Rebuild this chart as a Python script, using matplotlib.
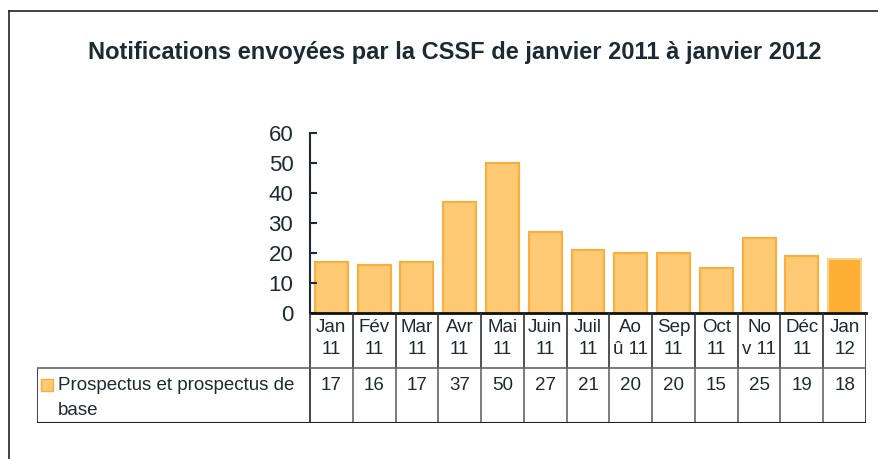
import numpy as np
import matplotlib.pyplot as plt
from matplotlib.lines import Line2D

# donnees
mois = ["Jan\n11", "Fév\n11", "Mar\n11", "Avr\n11", "Mai\n11", "Juin\n11", "Juil\n11",
        "Ao\nû 11", "Sep\n11", "Oct\n11", "No\nv 11", "Déc\n11", "Jan\n12"]
valeurs = [17, 16, 17, 37, 50, 27, 21, 20, 20, 15, 25, 19, 18]
serie = "Prospectus et prospectus de\nbase"
titre = "Notifications envoyées par la CSSF de janvier 2011 à janvier 2012"

plt.rcParams['font.family'] = ['Liberation Sans', 'DejaVu Sans']
texte = '#1c2b33'
fond = '#FDCA73'
bord = '#FBAE3C'
taille = 13.5

W, H = 879, 459
fig = plt.figure(figsize=(W / 100, H / 100), dpi=100)

# axe des barres (pixels: x 310-866, y 133-313)
ax = fig.add_axes([310 / W, (H - 313) / H, 556 / W, 180 / H])
x = np.arange(len(valeurs))
couleurs = [fond] * (len(valeurs) - 1) + ['#FDAE35']
bords = [bord] * (len(valeurs) - 1) + ['#FDD28A']
ax.bar(x, valeurs, width=0.77, color=couleurs, edgecolor=bords, linewidth=1.5)
ax.set_xlim(-0.5, len(valeurs) - 0.5)
ax.set_ylim(0, 60)
ax.set_yticks(range(0, 61, 10))
ax.set_xticks([])
for s in ['top', 'right']:
    ax.spines[s].set_visible(False)
ax.spines['left'].set_color('#1c2b33')
ax.spines['left'].set_linewidth(1.5)
ax.spines['bottom'].set_color('#111111')
ax.spines['bottom'].set_linewidth(2)
ax.tick_params(axis='y', direction='in', length=5, width=1.5, color='#1c2b33',
               labelsize=16, labelcolor=texte, pad=12)

# tableau sous le graphique
col = 556 / len(valeurs)
gauche = -0.5 - 273 / col
tb = fig.add_axes([37 / W, (H - 423) / H, 829 / W, 110 / H])
tb.set_xlim(gauche, len(valeurs) - 0.5)
tb.set_ylim(0, 2)
tb.axis('off')
bornes = np.arange(len(valeurs) + 1) - 0.5
tb.vlines(bornes, 1, 2, color='#333333', lw=1.2)
tb.vlines(bornes[1:-1], 0, 1, color='#666666', lw=1.2)
tb.vlines([gauche, bornes[0], bornes[-1]], 0, 1, color='#222222', lw=1.2)
tb.hlines(1, gauche, bornes[-1], color='#666666', lw=1.2)
tb.hlines(0, gauche, bornes[-1], color='#222222', lw=1.5)
for i, (m, v) in enumerate(zip(mois, valeurs)):
    haut, bas = m.split("\n")
    tb.text(i, 1.745, haut, ha='center', va='center', fontsize=taille, color=texte)
    tb.text(i, 1.33, bas, ha='center', va='center', fontsize=taille, color=texte)
    tb.text(i, 0.69, str(v), ha='center', va='center', fontsize=taille, color=texte)
tb.scatter([gauche + 10 / col], [0.69], marker='s', s=75, color=fond, edgecolor=bord, lw=1)
lignes = serie.split("\n")
tb.text(gauche + 21 / col, 0.69, lignes[0], ha='left', va='center', fontsize=taille, color=texte)
tb.text(gauche + 21 / col, 0.236, lignes[1], ha='left', va='center', fontsize=taille, color=texte)

# titre et cadre
fig.text(455 / W, 1 - 52 / H, titre, ha='center', va='center', fontsize=17,
         fontweight='bold', color=texte)
fig.add_artist(Line2D([9 / W, 1], [1 - 11 / H] * 2, color='#222222', lw=1.2))
fig.add_artist(Line2D([8.5 / W] * 2, [0, 1 - 11 / H], color='#222222', lw=1.2))

fig.savefig("out.png", dpi=100)
